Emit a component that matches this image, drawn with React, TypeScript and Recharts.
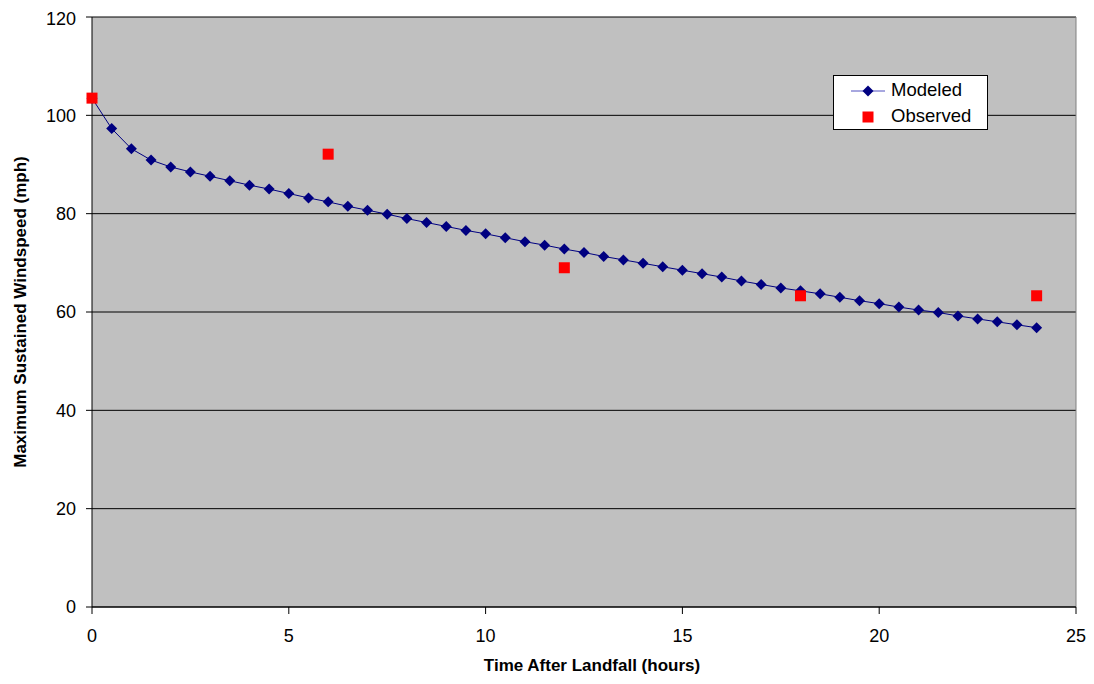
import { ScatterChart, Scatter, XAxis, YAxis, CartesianGrid, ReferenceLine } from 'recharts';

const modeledTimes = [
  0, 0.5, 1, 1.5, 2, 2.5, 3, 3.5, 4, 4.5, 5, 5.5, 6, 6.5, 7, 7.5, 8, 8.5, 9, 9.5, 10, 10.5, 11, 11.5, 12,
  12.5, 13, 13.5, 14, 14.5, 15, 15.5, 16, 16.5, 17, 17.5, 18, 18.5, 19, 19.5, 20, 20.5, 21, 21.5, 22, 22.5,
  23, 23.5, 24,
];
const modeledSpeeds = [
  103.5, 97.3, 93.2, 90.9, 89.5, 88.5, 87.6, 86.7, 85.8, 85.0, 84.1, 83.2, 82.4, 81.5, 80.7, 79.9, 79.0,
  78.2, 77.4, 76.6, 75.9, 75.1, 74.3, 73.6, 72.8, 72.1, 71.3, 70.6, 69.9, 69.2, 68.5, 67.8, 67.1, 66.3,
  65.6, 64.9, 64.3, 63.7, 63.0, 62.3, 61.7, 61.0, 60.4, 59.9, 59.2, 58.6, 58.0, 57.4, 56.8,
];
const observedTimes = [0, 6, 12, 18, 24];
const observedSpeeds = [103.5, 92.1, 69.0, 63.3, 63.3];

const xTicks = [0, 5, 10, 15, 20, 25];
const yTicks = [0, 20, 40, 60, 80, 100, 120];

const modeled = modeledTimes.map((t, i) => ({ t, v: modeledSpeeds[i] }));
const observed = observedTimes.map((t, i) => ({ t, v: observedSpeeds[i] }));

const FONT = '"Liberation Sans", Arial, sans-serif';
const NAVY = '#000080';

const Diamond = (props: any) => {
  const { cx, cy } = props;
  const r = 5.5;
  return <polygon points={`${cx},${cy - r} ${cx + r},${cy} ${cx},${cy + r} ${cx - r},${cy}`} fill={NAVY} />;
};

const Square = (props: any) => {
  const { cx, cy } = props;
  return <rect x={cx - 5.5} y={cy - 5.5} width={11} height={11} fill="#ff0000" />;
};

// legend drawn as an overlay so it takes no room from the plot
const LegendBox = () => (
  <div
    style={{
      position: 'absolute',
      left: 825,
      top: 67,
      width: 155,
      height: 55,
      background: '#fff',
      border: '1px solid #000',
      fontFamily: FONT,
      fontSize: 18.5,
      color: '#000',
      boxSizing: 'border-box',
    }}
  >
    <svg width={40} height={54} style={{ position: 'absolute', left: 15, top: 0 }}>
      <line x1={2} y1={15} x2={36} y2={15} stroke="#5050c0" strokeWidth={1} />
      <polygon points="19,9.5 24.5,15 19,20.5 13.5,15" fill={NAVY} />
      <rect x={13.5} y={35.5} width={11} height={11} fill="#ff0000" />
    </svg>
    <div style={{ position: 'absolute', left: 57, top: 4, lineHeight: '20px' }}>Modeled</div>
    <div style={{ position: 'absolute', left: 57, top: 30, lineHeight: '20px' }}>Observed</div>
  </div>
);

export default function App() {
  return (
    <div style={{ position: 'relative', width: 1080, height: 670 }}>
      <ScatterChart width={1080} height={670} margin={{ top: 9, right: 12, bottom: 1, left: 0 }}>
        <CartesianGrid horizontal vertical={false} stroke="#000" fill="#c0c0c0" fillOpacity={1} />
        <XAxis
          type="number"
          dataKey="t"
          domain={[0, 25]}
          ticks={xTicks}
          height={70}
          tickSize={7}
          tickMargin={15}
          axisLine={{ stroke: '#000' }}
          tickLine={{ stroke: '#000' }}
          tick={{ fill: '#000', fontSize: 18, fontFamily: FONT }}
          label={{
            value: 'Time After Landfall (hours)',
            position: 'insideBottom',
            offset: 6,
            dx: 8,
            style: { fontFamily: FONT, fontSize: 17, fontWeight: 'bold', fill: '#000' },
          }}
        />
        <YAxis
          type="number"
          dataKey="v"
          domain={[0, 120]}
          ticks={yTicks}
          width={84}
          tickSize={6}
          tickMargin={10}
          axisLine={{ stroke: '#000' }}
          tickLine={{ stroke: '#000' }}
          tick={{ fill: '#000', fontSize: 18, fontFamily: FONT }}
          label={{
            value: 'Maximum Sustained Windspeed (mph)',
            angle: -90,
            position: 'insideLeft',
            offset: 12,
            style: { textAnchor: 'middle', fontFamily: FONT, fontSize: 17, fontWeight: 'bold', fill: '#000' },
          }}
        />
        <ReferenceLine x={25} stroke="#808080" />
        <Scatter
          name="Modeled"
          data={modeled}
          line={{ stroke: NAVY, strokeWidth: 1 }}
          lineType="joint"
          shape={<Diamond />}
          isAnimationActive={false}
        />
        <Scatter name="Observed" data={observed} shape={<Square />} isAnimationActive={false} />
      </ScatterChart>
      <LegendBox />
    </div>
  );
}
